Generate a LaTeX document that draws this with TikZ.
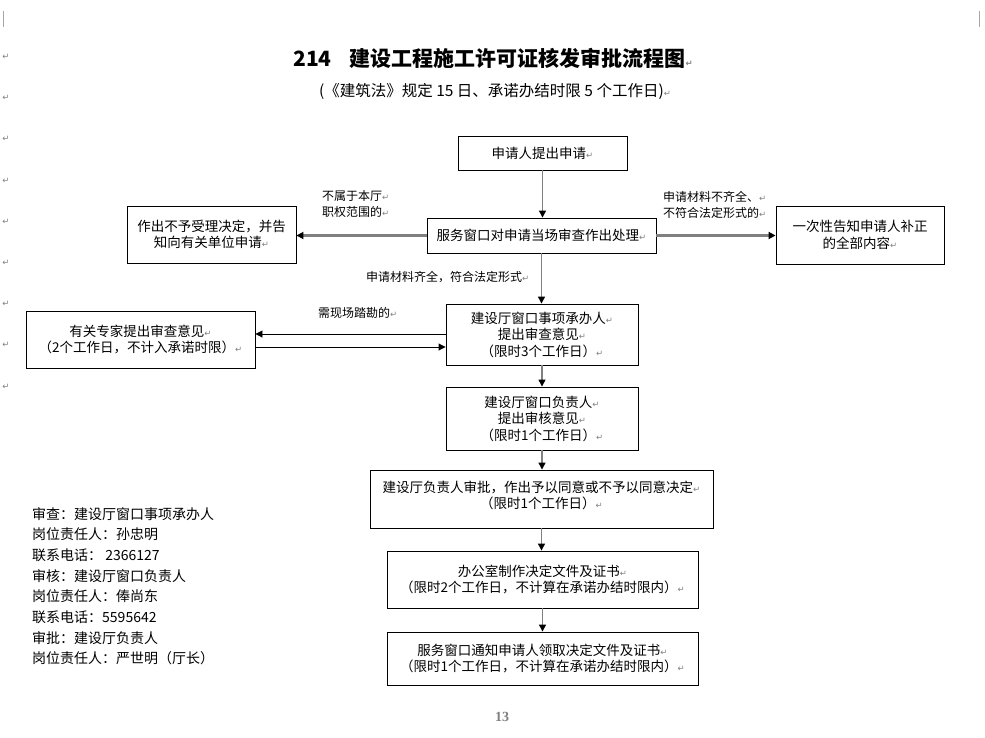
\documentclass[tikz,border=0pt]{standalone}
\usepackage{fontspec}
\setmainfont{Noto Sans CJK SC}
\newfontfamily\symfont{DejaVu Sans}
\newfontfamily\numfont{Liberation Serif}
\usetikzlibrary{arrows.meta}
\newcommand\retmark{{\symfont\fontsize{8.5}{8.5}\selectfont\textcolor{gray}{↵}}}

\begin{document}
\begin{tikzpicture}[x=1pt, y=-1pt,
    box/.style={draw, rectangle, align=center, line width=0.9pt, inner sep=2pt, font=\fontsize{13.5}{16.5}\selectfont},
    note/.style={align=left, anchor=north west, inner sep=0pt, font=\fontsize{12}{16}\selectfont},
    downarrow/.style={draw=gray, line width=1.3pt, -{Triangle[length=7pt,width=7pt,black]}},
    sidearrow/.style={draw=gray, line width=3pt, -{Triangle[length=7pt,width=7pt,black]}},
    linkarrow/.style={draw=black, line width=0.9pt, -{Triangle[length=7pt,width=7pt,black]}},
    pmark/.style={inner sep=0pt, font=\symfont\fontsize{8.5}{8.5}\selectfont, text=gray}]
            \fill[white] (0,0) rectangle (985,737);
            \useasboundingbox (0,0) rectangle (985,737);

            % page marks
            \draw[gray!70, line width=0.8pt] (3,11) -- (3,27);
            \draw[gray!70, line width=0.8pt] (979,11) -- (979,27);
            \foreach \y [count=\i] in {57,98,139,181,222,263,304,345,387}
                \node[pmark] (margin\i) at (6,\y) {↵};

            % title
            \node[font=\fontsize{21}{21}\selectfont\bfseries] (title) at (493,58) {214\hspace{18pt}建设工程施工许可证核发审批流程图\retmark};
            \node[font=\fontsize{15.5}{15.5}\selectfont] (subtitle) at (495,91) {(《建筑法》规定 15 日、承诺办结时限 5 个工作日)\retmark};

            % acceptance
            \node[box, minimum width=169, minimum height=34] (apply) at (542.5,153) {申请人提出申请\retmark};
            \node[box, minimum width=229, minimum height=35] (check) at (541.5,235.5) {服务窗口对申请当场审查作出处理\retmark};
            \node[box, minimum width=169, minimum height=57] (reject) at (211.5,234.5) {作出不予受理决定，并告\\知向有关单位申请\retmark};
            \node[box, minimum width=168, minimum height=58] (notify) at (860,235) {一次性告知申请人补正\\的全部内容\retmark};
            \node[note] (outscope) at (322,190) {不属于本厅\retmark\\职权范围的\retmark};
            \node[note] (incomplete) at (663,191) {申请材料不齐全、\retmark\\不符合法定形式的\retmark};
            \node[note, anchor=west] (complete) at (366,277) {申请材料齐全，符合法定形式\retmark};

            % review and approval
            \node[box, minimum width=192, minimum height=61] (review) at (542,334.5) {建设厅窗口事项承办人\retmark\\提出审查意见\retmark\\（限时3个工作日）\retmark};
            \node[box, minimum width=229, minimum height=57] (expert) at (140.5,339.5) {有关专家提出审查意见\retmark\\（2个工作日，不计入承诺时限）\retmark};
            \node[note, anchor=west] (survey) at (318,313) {需现场踏勘的\retmark};
            \node[box, minimum width=192, minimum height=63] (audit) at (542,418.5) {建设厅窗口负责人\retmark\\提出审核意见\retmark\\（限时1个工作日）\retmark};
            \node[box, minimum width=343, minimum height=58] (approve) at (541.5,499) {建设厅负责人审批，作出予以同意或不予以同意决定\retmark\\（限时1个工作日）\retmark\\[-8pt]\mbox{}};
            \node[box, minimum width=311, minimum height=57] (issue) at (542.5,579.5) {办公室制作决定文件及证书\retmark\\（限时2个工作日，不计算在承诺办结时限内）\retmark};
            \node[box, minimum width=311, minimum height=53] (collect) at (542.5,658.5) {服务窗口通知申请人领取决定文件及证书\retmark\\（限时1个工作日，不计算在承诺办结时限内）\retmark};

            % connectors
            \draw[downarrow] (apply.south) -- (apply.south |- check.north);
            \draw[sidearrow] (check.west) -- (check.west -| reject.east);
            \draw[sidearrow] (check.east) -- (check.east -| notify.west);
            \draw[downarrow] (check.south) -- (check.south |- review.north);
            \draw[linkarrow] ([yshift=0.5pt]review.west) -- ([yshift=0.5pt]review.west -| expert.east);
            \draw[linkarrow] ([yshift=-12.5pt]review.west -| expert.east) -- ([yshift=-12.5pt]review.west);
            \draw[downarrow] (review.south) -- (review.south |- audit.north);
            \draw[downarrow] (audit.south) -- (audit.south |- approve.north);
            \draw[downarrow] (approve.south) -- (approve.south |- issue.north);
            \draw[downarrow] (issue.south) -- (issue.south |- collect.north);

            % responsible persons
            \node[align=left, anchor=north west, inner sep=0pt, font=\fontsize{14}{20.7}\selectfont] (contacts) at (32,507) {审查：建设厅窗口事项承办人\\岗位责任人：孙忠明\\联系电话： 2366127\\审核：建设厅窗口负责人\\岗位责任人：俸尚东\\联系电话：5595642\\审批：建设厅负责人\\岗位责任人：严世明（厅长）};

            % page number
            \node[font=\numfont\bfseries\fontsize{14}{14}\selectfont, text=gray] (pageno) at (502,717) {13};
        \end{tikzpicture}
\end{document}
